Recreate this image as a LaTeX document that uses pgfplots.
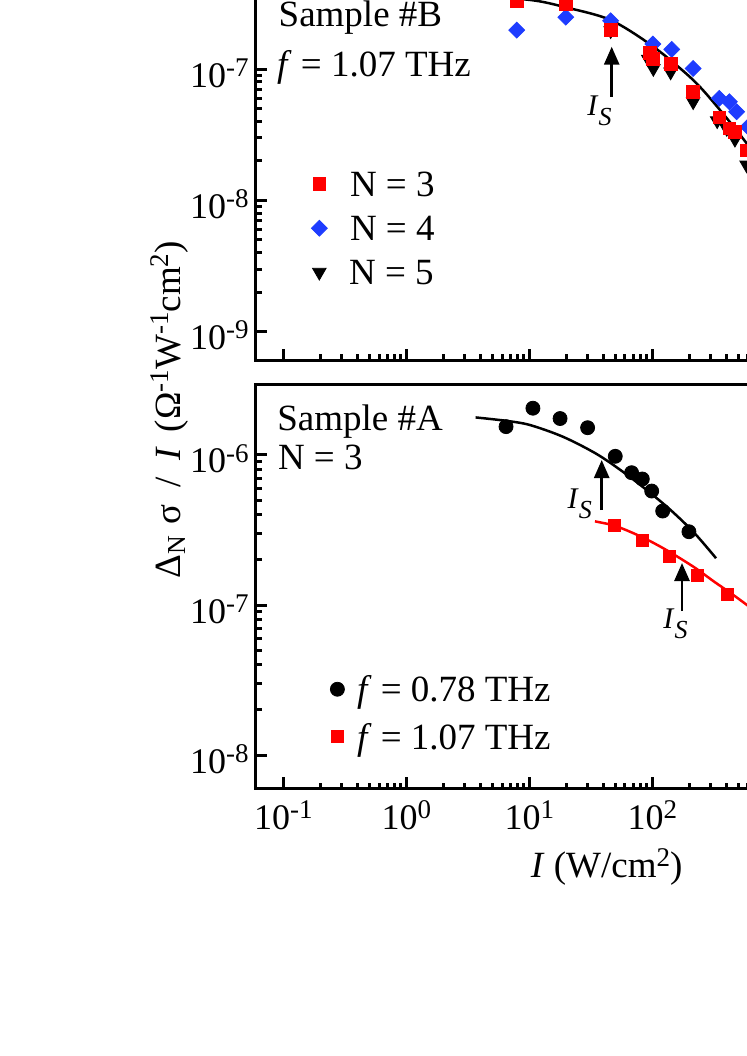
\documentclass[border=0pt]{standalone}
\usepackage{pgfplots}
\pgfplotsset{compat=1.18}
\usepackage{fontspec}
\setmainfont{Liberation Serif}
\usetikzlibrary{arrows.meta}
\definecolor{myblue}{RGB}{30,60,255}
\newcommand{\sps}[1]{\raisebox{0.3em}{\fontsize{13.5}{14}\selectfont #1}}
\newcommand{\IS}{\fontsize{15}{16}\selectfont\textit{I}\raisebox{-5pt}{\fontsize{13}{14}\selectfont\textit{S}}}
\begin{document}
\begin{tikzpicture}
\useasboundingbox (0,0) rectangle (373.5pt,-528pt);
\clip (0,0) rectangle (373.5pt,-528pt);
% ---------------- top panel ----------------
\begin{axis}[scale only axis, width=350.65pt,
    xmode=log, ymode=log,
    xmin=0.05998, xmax=30200,
    axis line style={line width=1.5pt},
    every tick/.style={line width=1.5pt, black},
    major tick length=5.5pt, tick align=inside, tick pos=left,
    minor xtick={}, minor ytick={},
    xtick={0.1,1,10,100,1000,10000},
    yticklabel style={font=\fontsize{18}{20}\selectfont, inner sep=0pt, anchor=base east, xshift=-3.5pt, yshift=-9pt},
    xticklabel style={font=\fontsize{18}{20}\selectfont, inner sep=0pt, anchor=base, yshift=-20.5pt},
    legend cell align=left,
  at={(128pt,-180pt)}, anchor=south west, height=211.15pt,
  ymin=6.081e-10, ymax=1e-6,
  ytick={1e-9,1e-8,1e-7},
  yticklabels={{10\sps{-9}},{10\sps{-8}},{10\sps{-7}}},
  xticklabels={,,,,,},
  legend style={draw=none, fill=none, inner sep=0pt, outer sep=0pt, row sep=9.5pt, column sep=0pt,
    nodes={inner sep=0pt, text height=12.5pt, text depth=0pt, font=\fontsize{18.5}{22}\selectfont},
    at={(0.079,0.4459)}, anchor=north west},
]
\addlegendimage{only marks, mark=square*, red, mark size=3.2pt}
\addlegendentry{\hspace{11.4pt}N = 3}
\addlegendimage{only marks, mark=square*, mark options={rotate=45}, myblue, mark size=2.8pt}
\addlegendentry{\hspace{11.4pt}N = 4}
\addlegendimage{only marks, mark=triangle*, mark options={rotate=180}, black, mark size=3.9pt}
\addlegendentry{\hspace{10.9pt}N = 5}
\addplot[black, line width=1.25pt, smooth, forget plot] coordinates {
 (1,3.72e-7) (3,3.6e-7) (10.1,3.36e-7) (19.8,2.95e-7) (45.9,2.36e-7) (102,1.48e-7)
 (215,8.25e-8) (355,4.88e-8) (585,2.72e-8) (1000,1.38e-8)};
\addplot[only marks, mark=square*, mark options={rotate=45}, myblue, mark size=2.8pt, forget plot] coordinates {
 (7.9,1.98e-7) (19.8,2.48e-7) (45.9,2.33e-7) (101,1.55e-7) (144,1.41e-7) (215,1.01e-7)
 (351,5.98e-8) (423,5.64e-8) (485,4.73e-8) (600,3.63e-8)};
\addplot[only marks, mark=triangle*, mark options={rotate=180}, black, mark size=3.9pt, forget plot] coordinates {
 (45.9,1.96e-7) (92.7,1.19e-7) (102,1.01e-7) (141,9.5e-8) (215,5.64e-8) (337,4.04e-8)
 (403,3.53e-8) (470,2.92e-8) (585,1.86e-8)};
\addplot[only marks, mark=square*, red, mark size=3.2pt, forget plot] coordinates {
 (7.9,3.3e-7) (19.8,3.13e-7) (45.9,2.0e-7) (95.8,1.33e-7) (101.9,1.19e-7) (141,1.10e-7)
 (215,6.7e-8) (351,4.28e-8) (423,3.53e-8) (470,3.33e-8) (585,2.4e-8)};
\end{axis}
% ---------------- bottom panel ----------------
\begin{axis}[scale only axis, width=350.65pt,
    xmode=log, ymode=log,
    xmin=0.05998, xmax=30200,
    axis line style={line width=1.5pt},
    every tick/.style={line width=1.5pt, black},
    major tick length=5.5pt, tick align=inside, tick pos=left,
    minor xtick={}, minor ytick={},
    xtick={0.1,1,10,100,1000,10000},
    yticklabel style={font=\fontsize{18}{20}\selectfont, inner sep=0pt, anchor=base east, xshift=-3.5pt, yshift=-9pt},
    xticklabel style={font=\fontsize{18}{20}\selectfont, inner sep=0pt, anchor=base, yshift=-20.5pt},
    legend cell align=left,
  at={(128pt,-394.15pt)}, anchor=south west, height=202.15pt,
  ymin=5.998e-9, ymax=2.972e-6,
  ytick={1e-8,1e-7,1e-6},
  yticklabels={{10\sps{-8}},{10\sps{-7}},{10\sps{-6}}},
  xticklabels={{10\sps{-1}},{10\sps{0}},{10\sps{1}},{10\sps{2}},{},{}},
  xlabel={\textit{I} (W/cm\sps{2})},
  x label style={at={(axis description cs:0.5,0)}, anchor=base, yshift=-44.5pt, inner sep=0pt, font=\fontsize{18.5}{22}\selectfont},
  legend style={draw=none, fill=none, inner sep=0pt, outer sep=0pt, row sep=11.2pt, column sep=0pt,
    nodes={inner sep=0pt, text height=12.5pt, text depth=0pt, font=\fontsize{18.5}{22}\selectfont},
    at={(0.1061,0.276)}, anchor=north west},
]
\addplot[black, line width=1.25pt, smooth, forget plot] coordinates {
 (3.66,1.78e-6) (6.47,1.69e-6) (10.1,1.585e-6) (18.9,1.32e-6) (36.4,1.0e-6) (67.9,7.0e-7)
 (131,4.53e-7) (215,3.08e-7) (330,2.05e-7)};
\addplot[red, line width=1.25pt, smooth, forget plot] coordinates {
 (34.2,3.61e-7) (48.2,3.40e-7) (65.9,3.08e-7) (89.9,2.74e-7) (122.8,2.39e-7) (168,2.05e-7)
 (229.6,1.74e-7) (313,1.445e-7) (428,1.21e-7) (589,1.0e-7) (1000,7.2e-8) (2000,4.7e-8)};
\addplot[only marks, mark=*, black, mark size=3.5pt] coordinates {
 (6.47,1.545e-6) (10.7,2.05e-6) (17.8,1.75e-6) (29.8,1.52e-6) (50.0,9.8e-7) (67.9,7.62e-7)
 (83,6.92e-7) (98.9,5.75e-7) (121.5,4.23e-7) (198.6,3.08e-7)};
\addlegendentry{\hspace{6.3pt}\textit{f} = 0.78 THz}
\addplot[only marks, mark=square*, red, mark size=3pt] coordinates {
 (49.1,3.41e-7) (83.5,2.71e-7) (139,2.12e-7) (234,1.585e-7) (410,1.18e-7)};
\addlegendentry{\hspace{6.3pt}\textit{f} = 1.07 THz}
\end{axis}
% ---------------- annotations ----------------
\node[anchor=base west, inner sep=0pt, font=\fontsize{18.5}{22}\selectfont] at (139.15pt,-13.35pt) {Sample \#B};
\node[anchor=base west, inner sep=0pt, font=\fontsize{18.5}{22}\selectfont] at (138.35pt,-38pt) {\textit{f} = 1.07 THz};
\node[anchor=base west, inner sep=0pt, font=\fontsize{18.5}{22}\selectfont] at (138.5pt,-215pt) {Sample \#A};
\node[anchor=base west, inner sep=0pt, font=\fontsize{18.5}{22}\selectfont] at (138.8pt,-234.5pt) {N = 3};
\draw[line width=1.35pt, -{Triangle[length=9pt,width=7.5pt]}] (305.85pt,-48.35pt) -- (305.85pt,-23.35pt);
\draw[line width=1.35pt, -{Triangle[length=9pt,width=7.5pt]}] (300.85pt,-255pt) -- (300.85pt,-230pt);
\draw[line width=1.35pt, -{Triangle[length=9pt,width=7.5pt]}] (341pt,-305.5pt) -- (341pt,-281.5pt);
\node[anchor=base west, inner sep=0pt] at (293.5pt,-57.5pt) {\IS};
\node[anchor=base west, inner sep=0pt] at (283.65pt,-254.15pt) {\IS};
\node[anchor=base west, inner sep=0pt] at (331.5pt,-314pt) {\IS};
\node[rotate=90, anchor=base, inner sep=0pt, font=\fontsize{18.5}{22}\selectfont] at (90pt,-205pt)
  {Δ\textsubscript{N}\hspace{0.3em}σ\hspace{0.45em}/\hspace{0.45em}\textit{I}\hspace{0.4em}(Ω\sps{-1}W\sps{-1}cm\sps{2})};
\end{tikzpicture}
\end{document}
